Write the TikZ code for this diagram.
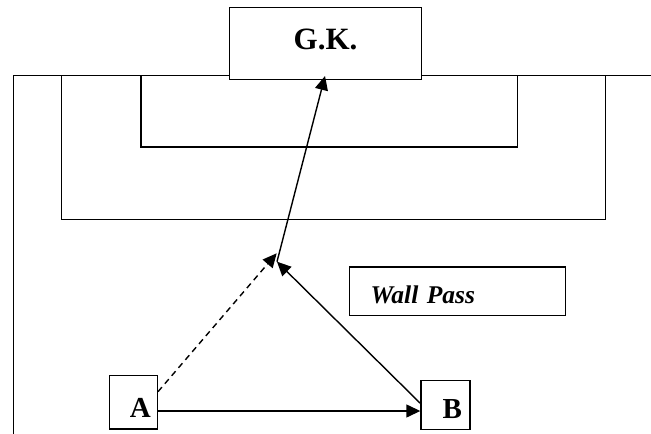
\documentclass[tikz,border=0pt]{standalone}
\usepackage{fontspec}
\setmainfont{Liberation Serif}
\usetikzlibrary{arrows.meta}
\begin{document}
\begin{tikzpicture}[x=1pt,y=-1pt, line width=1.4pt,
 boxnode/.style={draw, fill=white, rectangle, inner sep=0pt, text depth=0pt},
 pass/.style={-{Triangle[length=14pt,width=13pt]}},
 dashpass/.style={pass, dash pattern=on 6pt off 4.5pt},
]
\useasboundingbox (0,0) rectangle (651,434);
% field lines
\draw (13.7,434) -- (13.7,75.3) -- (651,75.3);
\draw (61.4,75.3) -- (61.4,219.3) -- (605.2,219.3) -- (605.2,75.3);
\draw (141.1,75.3) -- (141.1,147) -- (517.2,147) -- (517.2,75.3);
% boxes
\node[boxnode, minimum width=191.8pt, minimum height=72pt, text height=12pt,
  font=\fontsize{31}{31}\selectfont\bfseries] (gk) at (325.5,43.3) {G.K.};
\node[boxnode, anchor=west, minimum height=48.5pt, text width=174pt, inner xsep=21pt,
  align=left, text height=24pt,
  font=\fontsize{25.5}{25.5}\selectfont\bfseries\itshape] (wp) at (349,291.3) {Wall Pass};
\node[boxnode, minimum width=48pt, minimum height=53.3pt, text height=29.4pt,
  font=\fontsize{29}{29}\selectfont\bfseries] (A) at (133.3,402.35) {\hspace*{14pt}A};
\node[boxnode, minimum width=49pt, minimum height=48.6pt, text height=26.6pt,
  font=\fontsize{29}{29}\selectfont\bfseries] (B) at (445.5,405) {\hspace*{13.7pt}B};
% meeting points
\coordinate (meet) at (277,261.7);
\coordinate (dtip) at (276.7,253.3);
\coordinate (gktip) at (325,76);
% passes
\draw[pass] ([yshift=-8.65pt]A.east) -- ([yshift=-6pt]B.west);
\draw[pass] ([yshift=1.7pt]B.west) -- (meet);
\draw[dashpass] ([yshift=10.65pt]A.east) -- (dtip);
\draw[pass] (meet) -- (gktip);
\end{tikzpicture}
\end{document}
